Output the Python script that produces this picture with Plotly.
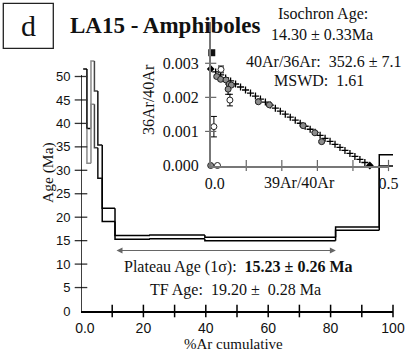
import numpy as np
import plotly.graph_objects as go

W, H = 406, 356

# ---------------- data: age spectrum ----------------
step_edges = [0.7, 1.9, 3.2, 4.3, 5.4, 6.8, 10.9, 22.1, 39.7, 81.6, 95.6, 100.0]
age_hi = [51.6, 38.9, 53.3, 46.9, 35.4, 21.9, 16.1, 16.2, 15.7, 17.9, 33.3]
age_lo = [38.9, 31.5, 44.1, 34.8, 28.3, 19.1, 15.3, 15.4, 15.0, 17.2, 30.9]
hi_colors = ['#000', '#000', '#8a8a8a', '#444', '#111', '#000', '#000', '#000', '#000', '#000', '#000']
lo_colors = ['#000', '#8a8a8a', '#8a8a8a', '#444', '#111', '#000', '#000', '#000', '#000', '#000', '#000']
draw_lo = [False] + [True] * 10

x_ticks = [10, 20, 30, 40, 50, 60, 70, 80, 90, 100]
x_labels_at = [0, 20, 40, 60, 80, 100]
x_labels = ['\u00a0\u00a00.0', '20', '40', '60', '80', '100']
y_ticks = [5, 10, 15, 20, 25, 30, 35, 40, 45, 50]
y_labels_at = [0, 5, 10, 15, 20, 25, 30, 35, 40, 45, 50]

# ---------------- data: isochron inset ----------------
gray_x = [0.017, 0.028, 0.043, 0.052, 0.058, 0.049, 0.134, 0.165, 0.260, 0.293, 0.312, 0.0]
gray_y = [0.00261, 0.00253, 0.00251, 0.00239, 0.00236, 0.00224, 0.00187, 0.00178, 0.00117, 0.00096, 0.00070, 0.0]
gray_err = [0.00004, 0.00004, 0.00004, 0.00004, 0.00004, 0.00015, 0.00003, 0.00003, 0.00003, 0.00003, 0.00003, 0.0]
open_x = [0.029, 0.054, 0.009, 0.019]
open_y = [0.00282, 0.00192, 0.00114, 0.0]
open_err = [0.0001, 0.00017, 0.0003, 0.0]
excl_x = [0.003]
excl_y = [0.00331]
atm_ratio = 352.6          # 40Ar/36Ar intercept
x_intercept = 0.4475       # 39Ar/40Ar intercept
n_cross = 31
inset_xticks = [0.1, 0.2, 0.3, 0.4, 0.5]
inset_yticks = [0.001, 0.002, 0.003]

SERIF = 'Liberation Serif'
SANS = 'Liberation Sans'


def px(x):
    return x / W


def py(y):
    return 1 - y / H


fig = go.Figure()

# ---- age spectrum step lines grouped by colour ----
groups = {}
for i in range(len(age_hi)):
    x0, x1 = step_edges[i], step_edges[i + 1]
    c = hi_colors[i]
    gx, gy = groups.setdefault(c, ([], []))
    if i == 0:
        gx += [x0, x1, None]
        gy += [age_hi[i], age_hi[i], None]
    else:
        gx += [x0, x0, x1, None]
        gy += [age_hi[i - 1], age_hi[i], age_hi[i], None]
    if draw_lo[i]:
        c = lo_colors[i]
        gx, gy = groups.setdefault(c, ([], []))
        gx += [x0, x0, x1, None]
        gy += [age_lo[i - 1], age_lo[i], age_lo[i], None]

for c, (gx, gy) in groups.items():
    fig.add_trace(go.Scatter(x=gx, y=gy, mode='lines', line=dict(color=c, width=1.5),
                             hoverinfo='skip', showlegend=False, xaxis='x', yaxis='y'))

# ---- main axis tick marks (crossing the axis lines) ----
fig.add_trace(go.Scatter(x=x_ticks, y=[0] * len(x_ticks), mode='markers', cliponaxis=False,
                         marker=dict(symbol='line-ns', size=9, line=dict(width=1.5, color='black')),
                         showlegend=False, hoverinfo='skip', xaxis='x', yaxis='y'))
fig.add_trace(go.Scatter(x=[0] * len(y_ticks), y=y_ticks, mode='markers', cliponaxis=False,
                         marker=dict(symbol='line-ew', size=9, line=dict(width=1.3, color='#333')),
                         showlegend=False, hoverinfo='skip', xaxis='x', yaxis='y'))

# ---- inset: isochron line drawn with crosses ----
y_intercept = 1.0 / atm_ratio
lx = np.linspace(0, x_intercept, n_cross + 2)[1:-1]
ly = y_intercept * (1 - lx / x_intercept)
fig.add_trace(go.Scatter(x=lx, y=ly, mode='markers', cliponaxis=False,
                         marker=dict(symbol='cross-thin', size=5, line=dict(width=1.3, color='black')),
                         showlegend=False, hoverinfo='skip', xaxis='x2', yaxis='y2'))
fig.add_trace(go.Scatter(x=[0, x_intercept], y=[y_intercept, 0], mode='markers', cliponaxis=False,
                         marker=dict(symbol='diamond', size=6, color='black'),
                         showlegend=False, hoverinfo='skip', xaxis='x2', yaxis='y2'))
fig.add_trace(go.Scatter(x=gray_x, y=gray_y, mode='markers', cliponaxis=False,
                         error_y=dict(type='data', array=gray_err, color='black', thickness=1, width=3),
                         marker=dict(symbol='circle', size=6, color='#8c8c8c', line=dict(width=1, color='#222')),
                         showlegend=False, hoverinfo='skip', xaxis='x2', yaxis='y2'))
fig.add_trace(go.Scatter(x=open_x, y=open_y, mode='markers', cliponaxis=False,
                         error_y=dict(type='data', array=open_err, color='black', thickness=1, width=3),
                         marker=dict(symbol='circle', size=6, color='white', line=dict(width=1, color='#222')),
                         showlegend=False, hoverinfo='skip', xaxis='x2', yaxis='y2'))
fig.add_trace(go.Scatter(x=excl_x, y=excl_y, mode='markers', cliponaxis=False,
                         marker=dict(symbol='square', size=7, color='#111'),
                         showlegend=False, hoverinfo='skip', xaxis='x2', yaxis='y2'))
fig.add_trace(go.Scatter(x=inset_xticks, y=[0] * len(inset_xticks), mode='markers', cliponaxis=False,
                         marker=dict(symbol='line-ns', size=8, line=dict(width=1.2, color='#666')),
                         showlegend=False, hoverinfo='skip', xaxis='x2', yaxis='y2'))
fig.add_trace(go.Scatter(x=[0] * len(inset_yticks), y=inset_yticks, mode='markers', cliponaxis=False,
                         marker=dict(symbol='line-ew', size=8, line=dict(width=1.2, color='#666')),
                         showlegend=False, hoverinfo='skip', xaxis='x2', yaxis='y2'))

ppm = 4.69      # pixels per Ma
y_top = 56
inset_ppu = 34070.0
inset_top = 0.0042

fig.update_layout(
    width=W, height=H, margin=dict(l=0, r=0, t=0, b=0),
    paper_bgcolor='white', plot_bgcolor='rgba(0,0,0,0)',
    template='none', showlegend=False,
    font=dict(family=SERIF, color='black'),
    xaxis=dict(domain=[px(81), px(393)], range=[0, 100], anchor='y',
               showline=True, linecolor='black', linewidth=2, mirror=False,
               tickvals=x_labels_at, ticktext=x_labels, ticks='outside', ticklen=3,
               tickcolor='rgba(0,0,0,0)', tickfont=dict(family=SANS, size=14, color='#111'),
               showgrid=False, zeroline=False),
    yaxis=dict(domain=[py(311), py(311 - y_top * ppm)], range=[0, y_top], anchor='x',
               showline=False, tickvals=y_labels_at, ticks='outside', ticklen=7,
               tickcolor='rgba(0,0,0,0)', tickfont=dict(family=SANS, size=13, color='#111'),
               showgrid=False, zeroline=False),
    xaxis2=dict(domain=[px(210.7), px(388.5)], range=[0, 0.5], anchor='y2',
                showline=True, linecolor='#777', linewidth=1.5,
                tickvals=[0, 0.5], ticktext=['\u00a0\u00a00.0', '0.5'], ticks='outside', ticklen=3,
                tickcolor='rgba(0,0,0,0)', tickfont=dict(family=SERIF, size=16, color='#111'),
                showgrid=False, zeroline=False),
    yaxis2=dict(domain=[py(165.5), py(165.5 - inset_top * inset_ppu)], range=[0, inset_top], anchor='x2',
                showline=True, linecolor='#777', linewidth=1.5,
                tickvals=[0, 0.001, 0.002, 0.003], ticktext=['0.000', '0.001', '0.002', '0.003'],
                ticks='outside', ticklen=7, tickcolor='rgba(0,0,0,0)',
                tickfont=dict(family=SERIF, size=16, color='#111'),
                showgrid=False, zeroline=False),
)

# main y axis line (ends at 50 Ma) and the "d" panel box
fig.add_shape(type='line', xref='x', yref='y', x0=0, x1=0, y0=0, y1=50.3,
              line=dict(color='black', width=1.5), layer='above')
fig.add_shape(type='rect', xref='paper', yref='paper', x0=px(3.3), x1=px(53.3), y0=py(48.3), y1=py(3.3),
              line=dict(color='#222', width=1.3))


def ann(text, x, y, size, **kw):
    fig.add_annotation(text=text, x=px(x), y=py(y), xref='paper', yref='paper',
                       showarrow=False, xanchor='center', yanchor='middle',
                       font=dict(family=kw.pop('family', SERIF), size=size, color='#111'), **kw)


ann('d', 28.3, 25.5, 30)
ann('<b>LA15 - Amphiboles</b>', 165, 26, 23)
ann('Isochron Age:', 322.5, 14, 16)
ann('14.30 ± 0.33Ma', 322, 34, 16)
ann('40Ar/36Ar:\u00a0\u00a0352.6 ± 7.1', 323, 61, 16)
ann('MSWD:\u00a0\u00a01.61', 319, 80, 16)
ann('36Ar/40Ar', 148, 100, 16, textangle=-90)
ann('39Ar/40Ar', 299.5, 182, 16)
ann('Plateau Age (1σ):\u00a0\u00a0<b>15.23 ± 0.26 Ma</b>', 238, 267, 16)
ann('TF Age:\u00a0\u00a019.20 ±\u00a0\u00a00.28 Ma', 236, 290, 16)
ann('Age (Ma)', 48, 173, 15.5, textangle=-90)
ann('%Ar cumulative', 234, 344, 15)

# plateau double arrow
fig.add_annotation(x=81.7, y=12.9, ax=10.9, ay=12.9, xref='x', yref='y', axref='x', ayref='y',
                   text='', showarrow=True, arrowhead=2, startarrowhead=2, arrowside='end+start',
                   arrowsize=1, startarrowsize=1, arrowwidth=1.2, arrowcolor='#666')

fig.write_html('out.html')
